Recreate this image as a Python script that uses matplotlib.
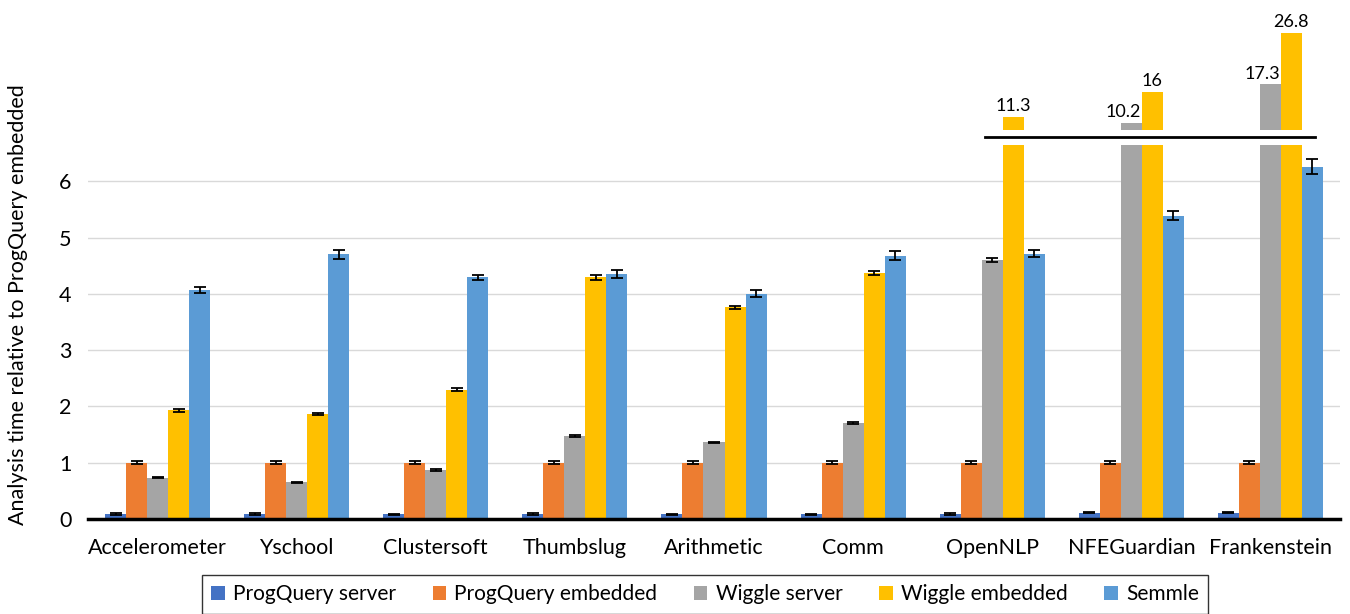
import numpy as np
import matplotlib.pyplot as plt

plt.rcParams['font.family'] = ['Lato', 'DejaVu Sans']

projects = ['Accelerometer', 'Yschool', 'Clustersoft', 'Thumbslug', 'Arithmetic',
            'Comm', 'OpenNLP', 'NFEGuardian', 'Frankenstein']
series = ['ProgQuery server', 'ProgQuery embedded', 'Wiggle server',
          'Wiggle embedded', 'Semmle']
colors = ['#4472C4', '#ED7D31', '#A5A5A5', '#FFC000', '#5B9BD5']

pq_server = [0.09, 0.09, 0.08, 0.09, 0.08, 0.08, 0.09, 0.11, 0.11]
pq_embedded = [1.0, 1.0, 1.0, 1.0, 1.0, 1.0, 1.0, 1.0, 1.0]
wiggle_server = [0.73, 0.65, 0.87, 1.48, 1.36, 1.70, 4.60, 10.2, 17.3]
wiggle_embedded = [1.93, 1.86, 2.30, 4.29, 3.76, 4.37, 11.3, 16, 26.8]
semmle = [4.07, 4.70, 4.29, 4.35, 4.00, 4.68, 4.71, 5.39, 6.26]

pq_server_err = [0.015, 0.015, 0.012, 0.015, 0.012, 0.012, 0.015, 0.01, 0.01]
pq_embedded_err = [0.03, 0.03, 0.03, 0.03, 0.03, 0.03, 0.03, 0.03, 0.03]
wiggle_server_err = [0.01, 0.01, 0.01, 0.015, 0.015, 0.015, 0.03, 0, 0]
wiggle_embedded_err = [0.03, 0.02, 0.03, 0.05, 0.03, 0.04, 0, 0, 0]
semmle_err = [0.05, 0.08, 0.04, 0.07, 0.06, 0.08, 0.06, 0.08, 0.14]

values = [pq_server, pq_embedded, wiggle_server, wiggle_embedded, semmle]
errors = [pq_server_err, pq_embedded_err, wiggle_server_err, wiggle_embedded_err, semmle_err]

CUT = 6.65      # lower panel bars are cut here
BREAK_Y = 6.78  # horizontal break line
TOP_BASE = 8.9  # bottom of the upper (broken) panel
TOP_PX = 5.42   # pixels per unit in the upper panel

W, H = 1350, 614
fig = plt.figure(figsize=(W / 100, H / 100), dpi=100)
ax = fig.add_axes([88 / W, 1 - 519 / H, 1252 / W, 389 / H])
ax_top = fig.add_axes([88 / W, 1 - 130 / H, 1252 / W, 125 / H], sharex=ax)

x = np.arange(len(projects))
bw = 0.151
for i, (vals, errs) in enumerate(zip(values, errors)):
    vals = np.array(vals, dtype=float)
    errs = np.array(errs, dtype=float)
    pos = x + (i - 2) * bw
    ax.bar(pos, np.minimum(vals, CUT), bw, color=colors[i], label=series[i], zorder=2)
    ok = vals <= CUT
    ax.errorbar(pos[ok], vals[ok], yerr=errs[ok], fmt='none', ecolor='black',
                elinewidth=1.3, capsize=4.5, capthick=1.3, zorder=3)
    big = vals > CUT
    if big.any():
        ax_top.bar(pos[big], vals[big] - TOP_BASE, bw, bottom=TOP_BASE, color=colors[i])
        for p, v in zip(pos[big], vals[big]):
            dx = -6 if i == 2 else 0
            ax_top.annotate(f'{v:g}', (p, v), xytext=(dx, 2), textcoords='offset points',
                            ha='center', va='bottom', fontsize=13)

# break line across the tall groups
ax.plot([x[6] - 0.05, x[8] + 0.32], [BREAK_Y, BREAK_Y], color='black', lw=2,
        clip_on=False, zorder=4)

ax.set_xlim(-0.5, len(projects) - 0.5)
ax.set_ylim(0, 389 / 56.3)
ax.set_yticks(range(0, 7))
ax.yaxis.grid(True, color='#D9D9D9', lw=1, zorder=0)
ax.set_axisbelow(True)
for s in ['top', 'right', 'left']:
    ax.spines[s].set_visible(False)
ax.spines['bottom'].set_linewidth(2.5)
ax.tick_params(axis='both', length=0, labelsize=15.5)
ax.tick_params(axis='x', pad=14)
ax.tick_params(axis='y', pad=12)
ax.set_xticks(x)
ax.set_xticklabels(projects)

ax_top.set_ylim(TOP_BASE, TOP_BASE + 125 / TOP_PX)
ax_top.axis('off')

fig.text(18 / W, 1 - 305 / H, 'Analysis time relative to ProgQuery embedded',
         rotation=90, ha='center', va='center', fontsize=15.5)

leg = fig.legend(loc='upper center', bbox_to_anchor=(705 / W, 1 - 575 / H), ncol=5,
                 fontsize=15, frameon=True, fancybox=False, edgecolor='black',
                 handlelength=0.65, handleheight=0.65, columnspacing=1.75,
                 handletextpad=0.4, borderpad=0.45, borderaxespad=0)
leg.get_frame().set_linewidth(1)

fig.savefig('out.png', dpi=100)
